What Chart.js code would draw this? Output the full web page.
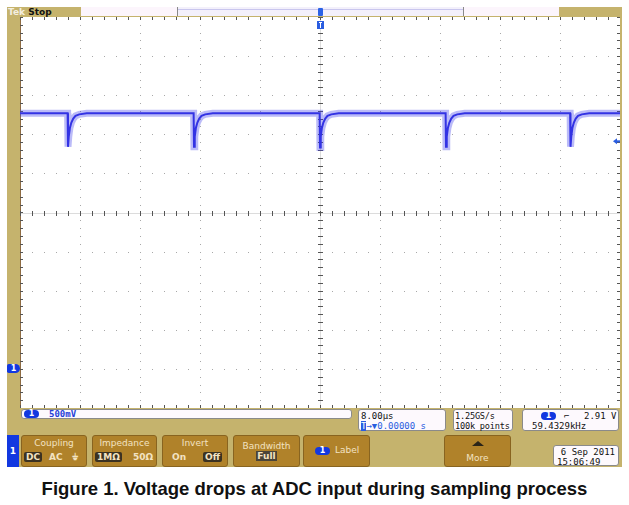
<!DOCTYPE html>
<html>
<head>
<meta charset="utf-8">
<script src="https://cdn.jsdelivr.net/npm/chart.js@4"></script>
<style>
  body { margin: 0; width: 629px; height: 505px; background: #fff; position: relative; overflow: hidden; font-family: "DejaVu Sans", sans-serif; }
  .abs { position: absolute; }
  #frame { left: 7px; top: 7px; width: 615px; height: 460px; background: #c5b36d; }
  #plot { left: 20px; top: 17px; width: 600px; height: 391px; background: #fff; border-left: 1px solid #8d6b42; box-sizing: border-box; }
  #scope { left: 20px; top: 17px; }
  .box { background: #fdf9fd; border: 1px solid #8a8a8a; border-radius: 3px; box-sizing: border-box; font: 9px "DejaVu Sans Mono", monospace; color: #111; line-height: 10px; white-space: nowrap; }
  .pill { background: #1238e0; color: #fff; border-radius: 5px; font: bold 8px "DejaVu Sans", sans-serif; text-align: center; line-height: 8px; }
  .btn { top: 435px; height: 32px; background: #b0822a; border: 1px solid #886420; border-radius: 3px; box-sizing: border-box; color: #f3e3c2; font: 9px "DejaVu Sans", sans-serif; }
  .btn .t { position: absolute; left: 0; right: 0; top: 2px; text-align: center; }
  .sel { background: #3b3222; color: #f3e3c2; border-radius: 2px; padding: 0 2px; }
  .opt { position: absolute; top: 16px; font-weight: bold; }
  #caption { left: 0; width: 629px; top: 478px; text-align: center; font: bold 18.5px "Liberation Sans", Arial, sans-serif; color: #111; }
</style>
</head>
<body>
<div id="frame" class="abs"></div>

<!-- top status bar -->
<div class="abs" style="left:8px;top:7px;font:bold 9px 'DejaVu Sans';line-height:10px;"><span style="color:#f4efe0">Tek</span> <span style="color:#111">Stop</span></div>
<div class="abs" style="left:81px;top:7px;width:478px;height:9px;background:#fcf5fc;"></div>
<div class="abs" style="left:177px;top:7px;width:287px;height:9px;background:#f3f0fb;border-left:1px solid #8a8a8a;border-right:1px solid #8a8a8a;box-sizing:border-box;"></div>
<div class="abs" style="left:178px;top:9px;width:285px;height:1px;background:#c9c6ee;"></div>
<div class="abs" style="left:318px;top:8px;width:5px;height:8px;background:#2a62e6;border-radius:1px;"></div>

<div id="plot" class="abs"></div>
<canvas id="scope" class="abs" width="600" height="391"></canvas>

<!-- ground marker -->
<div class="abs pill" style="left:7px;top:364px;width:13px;height:9px;line-height:9px;border-radius:2px 5px 5px 2px;">1</div>

<!-- readouts -->
<div class="abs box" style="left:21px;top:409px;width:331px;height:10px;">
  <div class="abs pill" style="left:2px;top:0px;width:15px;height:8px;">1</div>
  <div class="abs" style="left:27px;top:-1px;color:#2540d8;font-weight:bold;">500mV</div>
</div>
<div class="abs box" style="left:358px;top:409px;width:88px;height:22px;padding:1px 0 0 2px;">8.00µs<br><span style="color:#2a5de0"><span style="background:#2a5de0;color:#fff;">T</span>→▼0.00000 s</span></div>
<div class="abs box" style="left:453px;top:409px;width:60px;height:22px;padding:1px 0 0 1px;font-size:8.6px;letter-spacing:-0.2px;">1.25GS/s<br>100k points</div>
<div class="abs box" style="left:522px;top:409px;width:97px;height:22px;">
  <div class="abs pill" style="left:18px;top:2px;width:15px;height:8px;">1</div>
  <div class="abs" style="left:41px;top:1px;">⌐</div>
  <div class="abs" style="left:61px;top:1px;">2.91 V</div>
  <div class="abs" style="left:9px;top:11px;">59.4329kHz</div>
</div>

<!-- soft buttons -->
<div class="abs" style="left:7px;top:435px;width:12px;height:32px;background:#1238e0;color:#fff;font:bold 9px 'DejaVu Sans';text-align:center;line-height:32px;">1</div>
<div class="abs btn" style="left:21px;width:66px;"><div class="t">Coupling</div>
  <span class="opt sel" style="left:2px;">DC</span><span class="opt" style="left:27px;">AC</span><span class="opt" style="left:50px;">⏚</span></div>
<div class="abs btn" style="left:92px;width:65px;"><div class="t">Impedance</div>
  <span class="opt sel" style="left:2px;">1MΩ</span><span class="opt" style="left:40px;">50Ω</span></div>
<div class="abs btn" style="left:162px;width:66px;"><div class="t">Invert</div>
  <span class="opt" style="left:9px;">On</span><span class="opt sel" style="left:40px;">Off</span></div>
<div class="abs btn" style="left:233px;width:67px;"><div class="t" style="top:5px;line-height:10px;">Bandwidth<br><span style="background:#4a4438;padding:0 1px;font-weight:bold;">Full</span></div></div>
<div class="abs btn" style="left:303px;width:67px;">
  <div class="abs pill" style="left:11px;top:11px;width:15px;height:8px;">1</div>
  <div class="abs" style="left:31px;top:9px;">Label</div></div>
<div class="abs btn" style="left:444px;width:67px;">
  <div class="abs" style="left:27px;top:5px;width:0;height:0;border-left:6px solid transparent;border-right:6px solid transparent;border-bottom:5px solid #2a2418;"></div>
  <div class="t" style="top:17px;">More</div></div>
<div class="abs box" style="left:553px;top:445px;width:66px;height:21px;padding:1px 3px 0 0;text-align:right;">6 Sep  2011<br><span style="float:left;padding-left:3px;">15:06:49</span></div>

<div id="caption" class="abs">Figure 1. Voltage drops at ADC input during sampling process</div>

<script>
// scope settings
const timePerDivUs = 8;
const voltsPerDiv = 0.5;
const gridTimeUs = [-40, -32, -24, -16, -8, 0, 8, 16, 24, 32, 40];
const gridVolts = [-0.5, 0, 0.5, 1, 1.5, 2, 2.5, 3, 3.5, 4, 4.5];
const triggerTimeUs = 0;
const triggerLevelV = 2.91;

// CH1 trace (time in us, volts)
const traceTimeUs = [
  -40, -33.65,
  -33.6, -33.5, -33.35, -33.15, -32.9, -32.6, -32.1, -31.1,
  -16.85,
  -16.8, -16.7, -16.55, -16.35, -16.1, -15.8, -15.3, -14.3,
  -0.05,
  0, 0.1, 0.25, 0.45, 0.7, 1.0, 1.5, 2.5,
  16.75,
  16.8, 16.9, 17.05, 17.25, 17.5, 17.8, 18.3, 19.3,
  33.35,
  33.4, 33.5, 33.65, 33.85, 34.1, 34.4, 34.9, 35.9,
  40
];
const traceVolts = [
  3.27, 3.27,
  2.84, 2.97, 3.08, 3.15, 3.2, 3.235, 3.255, 3.27,
  3.27,
  2.84, 2.97, 3.08, 3.15, 3.2, 3.235, 3.255, 3.27,
  3.27,
  2.83, 2.97, 3.08, 3.15, 3.2, 3.235, 3.255, 3.27,
  3.27,
  2.84, 2.97, 3.08, 3.15, 3.2, 3.235, 3.255, 3.27,
  3.27,
  2.84, 2.97, 3.08, 3.15, 3.2, 3.235, 3.255, 3.27,
  3.27
];

const tracePoints = traceTimeUs.map((t, i) => ({ x: t, y: traceVolts[i] }));

// dotted graticule, centre cross and edge ticks
const graticule = {
  id: "graticule",
  beforeDatasetsDraw(chart) {
    const { ctx, chartArea: a, scales: { x, y } } = chart;
    const cx = x.getPixelForValue(0);
    const cy = y.getPixelForValue(2);
    ctx.save();

    // faint centre lines
    ctx.fillStyle = "#dcdcdc";
    ctx.fillRect(a.left, Math.round(cy), a.right - a.left, 1);
    ctx.fillRect(Math.round(cx), a.top, 1, a.bottom - a.top);

    // dots along every grid line
    ctx.fillStyle = "#a8a8a8";
    gridVolts.forEach((v) => {
      const py = Math.round(y.getPixelForValue(v));
      for (let t = gridTimeUs[0]; t <= gridTimeUs[gridTimeUs.length - 1]; t += timePerDivUs / 5) {
        ctx.fillRect(Math.round(x.getPixelForValue(t)), py, 1, 1);
      }
    });
    gridTimeUs.forEach((t) => {
      const px = Math.round(x.getPixelForValue(t));
      for (let v = gridVolts[0]; v <= gridVolts[gridVolts.length - 1] + 0.01; v += voltsPerDiv / 5) {
        ctx.fillRect(px, Math.round(y.getPixelForValue(v)), 1, 1);
      }
    });

    // minor ticks on centre cross and on the edges
    ctx.fillStyle = "#555";
    for (let t = gridTimeUs[0]; t <= gridTimeUs[gridTimeUs.length - 1]; t += timePerDivUs / 5) {
      const px = Math.round(x.getPixelForValue(t));
      ctx.fillRect(px, Math.round(cy) - 2, 1, 5);
      ctx.fillRect(px, a.top, 1, 3);
      ctx.fillRect(px, a.bottom - 3, 1, 3);
    }
    for (let v = gridVolts[0]; v <= gridVolts[gridVolts.length - 1] + 0.01; v += voltsPerDiv / 5) {
      const py = Math.round(y.getPixelForValue(v));
      ctx.fillRect(Math.round(cx) - 2, py, 5, 1);
      ctx.fillRect(a.left, py, 3, 1);
      ctx.fillRect(a.right - 3, py, 3, 1);
    }
    ctx.restore();
  },
  afterDatasetsDraw(chart) {
    const { ctx, chartArea: a, scales: { x, y } } = chart;
    ctx.save();
    // trigger level arrow on the right edge
    const ty = y.getPixelForValue(triggerLevelV);
    ctx.fillStyle = "#2a5de0";
    ctx.beginPath();
    ctx.moveTo(a.right - 7, ty);
    ctx.lineTo(a.right - 3, ty - 3);
    ctx.lineTo(a.right - 3, ty + 3);
    ctx.closePath();
    ctx.fill();
    ctx.fillRect(a.right - 4, ty - 1, 4, 2);
    // trigger position marker at the top
    const tx = x.getPixelForValue(triggerTimeUs);
    ctx.fillRect(tx - 3, a.top + 4, 7, 8);
    ctx.fillStyle = "#fff";
    ctx.fillRect(tx - 1, a.top + 5, 3, 1);
    ctx.fillRect(tx, a.top + 5, 1, 6);
    ctx.restore();
  }
};

const chart = new Chart(document.getElementById("scope").getContext("2d"), {
  type: "line",
  data: {
    datasets: [
      {
        data: tracePoints,
        borderColor: "rgba(60, 60, 235, 0.35)",
        borderWidth: 7,
        pointRadius: 0,
        tension: 0
      },
      {
        data: tracePoints,
        borderColor: "#2f2fe0",
        borderWidth: 2,
        pointRadius: 0,
        tension: 0
      }
    ]
  },
  options: {
    responsive: false,
    animation: false,
    events: [],
    layout: { padding: 0 },
    plugins: { legend: { display: false }, tooltip: { enabled: false } },
    scales: {
      x: { type: "linear", min: gridTimeUs[0], max: gridTimeUs[gridTimeUs.length - 1], display: false },
      y: { min: gridVolts[0], max: gridVolts[gridVolts.length - 1], display: false }
    }
  },
  plugins: [graticule]
});
</script>
</body>
</html>
